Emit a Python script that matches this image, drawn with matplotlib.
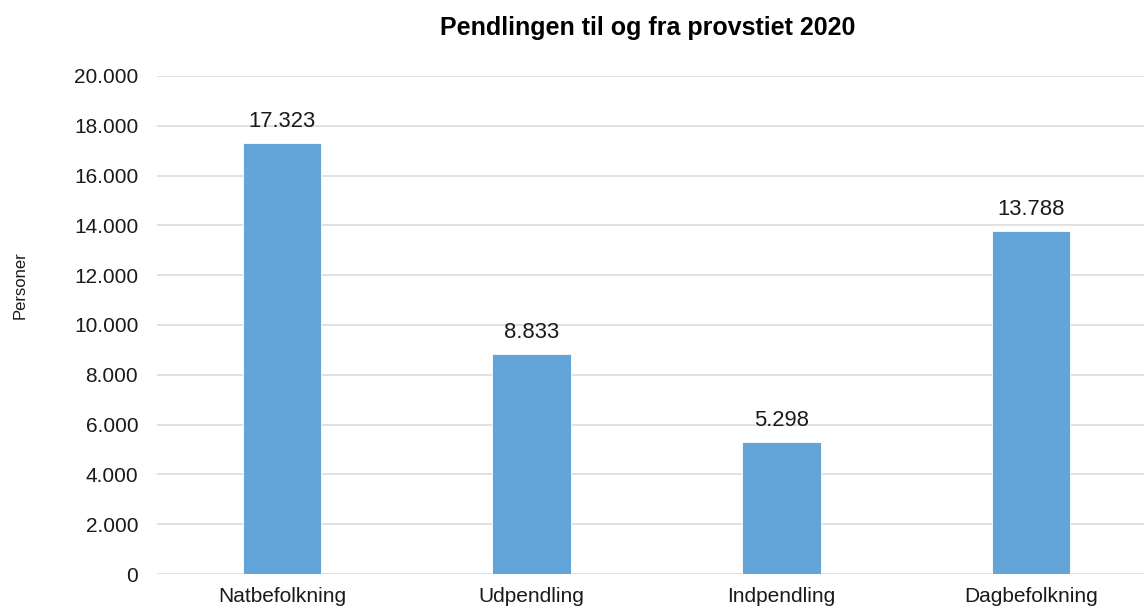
import matplotlib
matplotlib.use("Agg")
import matplotlib.pyplot as plt

categories = ["Natbefolkning", "Udpendling", "Indpendling", "Dagbefolkning"]
values = [17323, 8833, 5298, 13788]
yticks = [0, 2000, 4000, 6000, 8000, 10000, 12000, 14000, 16000, 18000, 20000]

def fmt(v):
    return f"{v:,}".replace(",", ".")

plt.rcParams['font.family'] = ['Liberation Sans', 'DejaVu Sans']

fig = plt.figure(figsize=(11.44, 6.10), dpi=100)
W, H = 1144, 610
left, right, top, bottom = 157, 1156, 76, 574
ax = fig.add_axes([left / W, 1 - bottom / H, (right - left) / W, (bottom - top) / H])

x = list(range(len(categories)))
bars = ax.bar(x, values, width=0.315, color="#63A5D8", edgecolor="white", linewidth=0.6, zorder=3)
for xi, v in zip(x, values):
    ax.annotate(fmt(v), (xi, v), xytext=(0, 8), textcoords="offset points",
                ha="center", va="bottom", fontsize=15.8, color="#1a1a1a")

ax.set_xlim(-0.5, len(categories) - 0.5)
ax.set_ylim(0, 20000)
ax.set_yticks(yticks)
ax.set_yticklabels([fmt(t) for t in yticks], fontsize=15, color="#1a1a1a")
ax.set_xticks(x)
ax.set_xticklabels(categories, fontsize=15, color="#1a1a1a")
ax.tick_params(axis="both", length=0)
ax.tick_params(axis="y", pad=13.5)
ax.tick_params(axis="x", pad=9)
ax.grid(axis="y", color="#D9D9D9", linewidth=1.1, zorder=0)
for s in ax.spines.values():
    s.set_visible(False)

fig.text(20 / W, 1 - 285 / H, "Personer", rotation=90, ha="center", va="center", fontsize=12, color="#1a1a1a")
fig.text(648 / W, 1 - 28 / H, "Pendlingen til og fra provstiet 2020", ha="center", va="center",
         fontsize=18, fontweight="bold", color="#000000")

fig.savefig("out.png", dpi=100)
